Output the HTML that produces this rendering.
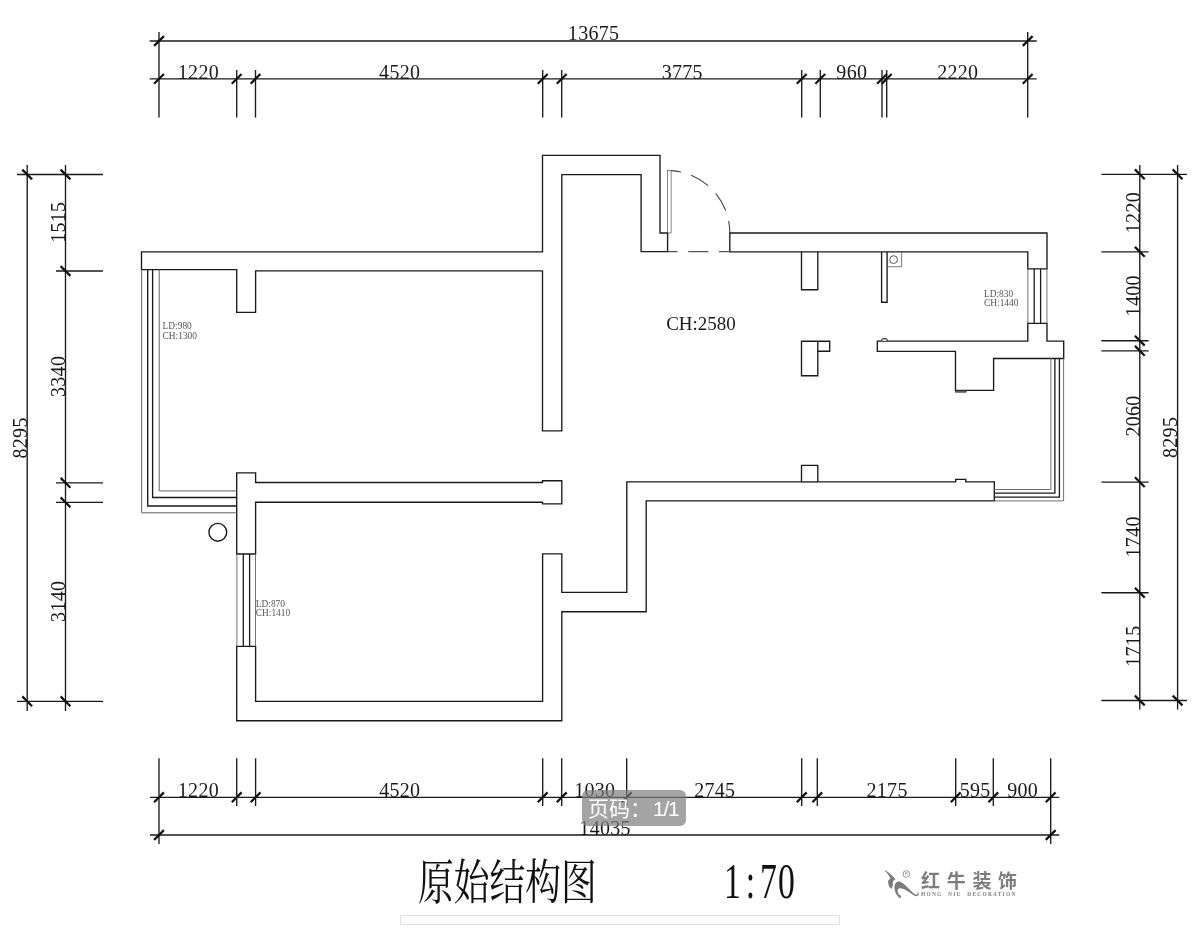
<!DOCTYPE html>
<html lang="zh-CN">
<head>
<meta charset="utf-8">
<title>原始结构图</title>
<style>
html,body{margin:0;padding:0;background:#fff;}
body{width:1200px;height:952px;position:relative;overflow:hidden;font-family:"Liberation Serif","Noto Serif CJK SC",serif;}
svg{position:absolute;left:0;top:0;}
.main{will-change:transform;}
.d{font-family:"Liberation Serif","Noto Serif CJK SC",serif;fill:#1a1a1a;letter-spacing:0.3px;}
.s{font-family:"Liberation Serif","Noto Serif CJK SC",serif;fill:#555;}
.title{position:absolute;left:418px;top:851px;font-family:"Liberation Serif","Noto Serif CJK SC",serif;font-size:47.5px;line-height:64px;color:#111;white-space:nowrap;transform:scaleX(0.753);transform-origin:0 0;font-weight:400;}
.scale{position:absolute;left:724px;top:848.5px;font-family:"Liberation Serif",serif;font-size:51px;line-height:64px;color:#111;white-space:nowrap;transform:scaleX(0.66);transform-origin:0 0;letter-spacing:1.8px;}
.scale span{margin:0 5.6px;}
.bar{position:absolute;left:400px;top:915px;width:438px;height:8.4px;border:1px solid #dfdfdf;background:#fff;}
.badge{position:absolute;left:581.5px;top:790px;width:104px;height:35.5px;border-radius:6px;background:rgba(126,126,126,0.7);color:#fff;font-family:"Liberation Sans","Noto Sans CJK SC",sans-serif;font-size:21px;line-height:35.5px;text-align:left;white-space:nowrap;}
.badge span{position:absolute;left:6.5px;top:0.5px;}
.badge b{font-weight:400;letter-spacing:-1.2px;margin-left:2px;}
.badge i{font-style:normal;font-family:"Liberation Sans","Noto Sans CJK TC",sans-serif;}
.logo{position:absolute;left:884px;top:866px;width:140px;height:36px;color:#7d7d7d;}
.logo .cn{position:absolute;left:37px;top:4px;font-family:"Liberation Sans","Noto Sans CJK SC",sans-serif;font-weight:700;font-size:19px;line-height:24px;letter-spacing:6.7px;white-space:nowrap;}
.logo .en{position:absolute;left:37px;top:25px;font-family:"Liberation Serif",serif;font-weight:700;font-size:5.4px;line-height:6px;letter-spacing:1.25px;white-space:nowrap;word-spacing:3px;}
</style>
</head>
<body>
<svg class="main" width="1200" height="952" viewBox="0 0 1200 952">
<line x1="149.7" y1="41.0" x2="1036.7" y2="41.0" stroke="#1a1a1a" stroke-width="1.35" />
<line x1="149.7" y1="78.9" x2="1036.7" y2="78.9" stroke="#1a1a1a" stroke-width="1.35" />
<line x1="159.0" y1="32.0" x2="159.0" y2="117.6" stroke="#1a1a1a" stroke-width="1.35" />
<line x1="1027.7" y1="32.0" x2="1027.7" y2="117.6" stroke="#1a1a1a" stroke-width="1.35" />
<line x1="236.7" y1="70.0" x2="236.7" y2="117.6" stroke="#1a1a1a" stroke-width="1.35" />
<line x1="255.5" y1="70.0" x2="255.5" y2="117.6" stroke="#1a1a1a" stroke-width="1.35" />
<line x1="542.7" y1="70.0" x2="542.7" y2="117.6" stroke="#1a1a1a" stroke-width="1.35" />
<line x1="561.7" y1="70.0" x2="561.7" y2="117.6" stroke="#1a1a1a" stroke-width="1.35" />
<line x1="801.7" y1="70.0" x2="801.7" y2="117.6" stroke="#1a1a1a" stroke-width="1.35" />
<line x1="820.3" y1="70.0" x2="820.3" y2="117.6" stroke="#1a1a1a" stroke-width="1.35" />
<line x1="882.0" y1="70.0" x2="882.0" y2="117.6" stroke="#1a1a1a" stroke-width="1.35" />
<line x1="886.7" y1="70.0" x2="886.7" y2="117.6" stroke="#1a1a1a" stroke-width="1.35" />
<line x1="154.1" y1="83.8" x2="163.9" y2="74.0" stroke="#111" stroke-width="2.2"/>
<line x1="231.8" y1="83.8" x2="241.6" y2="74.0" stroke="#111" stroke-width="2.2"/>
<line x1="250.6" y1="83.8" x2="260.4" y2="74.0" stroke="#111" stroke-width="2.2"/>
<line x1="537.8" y1="83.8" x2="547.6" y2="74.0" stroke="#111" stroke-width="2.2"/>
<line x1="556.8" y1="83.8" x2="566.6" y2="74.0" stroke="#111" stroke-width="2.2"/>
<line x1="796.8" y1="83.8" x2="806.6" y2="74.0" stroke="#111" stroke-width="2.2"/>
<line x1="815.4" y1="83.8" x2="825.2" y2="74.0" stroke="#111" stroke-width="2.2"/>
<line x1="877.1" y1="83.8" x2="886.9" y2="74.0" stroke="#111" stroke-width="2.2"/>
<line x1="881.8" y1="83.8" x2="891.6" y2="74.0" stroke="#111" stroke-width="2.2"/>
<line x1="1022.8" y1="83.8" x2="1032.6" y2="74.0" stroke="#111" stroke-width="2.2"/>
<line x1="154.1" y1="45.9" x2="163.9" y2="36.1" stroke="#111" stroke-width="2.2"/>
<line x1="1022.8" y1="45.9" x2="1032.6" y2="36.1" stroke="#111" stroke-width="2.2"/>
<text x="593.6" y="40.0" font-size="20" text-anchor="middle" class="d">13675</text>
<text x="198.4" y="78.8" font-size="20" text-anchor="middle" class="d">1220</text>
<text x="399.7" y="78.8" font-size="20" text-anchor="middle" class="d">4520</text>
<text x="682.3" y="78.8" font-size="20" text-anchor="middle" class="d">3775</text>
<text x="851.8" y="78.8" font-size="20" text-anchor="middle" class="d">960</text>
<text x="957.8" y="78.8" font-size="20" text-anchor="middle" class="d">2220</text>
<line x1="150.0" y1="797.3" x2="1059.3" y2="797.3" stroke="#1a1a1a" stroke-width="1.35" />
<line x1="150.0" y1="835.0" x2="1059.3" y2="835.0" stroke="#1a1a1a" stroke-width="1.35" />
<line x1="159.0" y1="758.3" x2="159.0" y2="844.0" stroke="#1a1a1a" stroke-width="1.35" />
<line x1="1050.7" y1="758.3" x2="1050.7" y2="844.0" stroke="#1a1a1a" stroke-width="1.35" />
<line x1="236.7" y1="758.3" x2="236.7" y2="806.0" stroke="#1a1a1a" stroke-width="1.35" />
<line x1="255.6" y1="758.3" x2="255.6" y2="806.0" stroke="#1a1a1a" stroke-width="1.35" />
<line x1="542.7" y1="758.3" x2="542.7" y2="806.0" stroke="#1a1a1a" stroke-width="1.35" />
<line x1="561.7" y1="758.3" x2="561.7" y2="806.0" stroke="#1a1a1a" stroke-width="1.35" />
<line x1="626.7" y1="758.3" x2="626.7" y2="806.0" stroke="#1a1a1a" stroke-width="1.35" />
<line x1="801.7" y1="758.3" x2="801.7" y2="806.0" stroke="#1a1a1a" stroke-width="1.35" />
<line x1="817.3" y1="758.3" x2="817.3" y2="806.0" stroke="#1a1a1a" stroke-width="1.35" />
<line x1="955.7" y1="758.3" x2="955.7" y2="806.0" stroke="#1a1a1a" stroke-width="1.35" />
<line x1="993.3" y1="758.3" x2="993.3" y2="806.0" stroke="#1a1a1a" stroke-width="1.35" />
<line x1="154.1" y1="802.2" x2="163.9" y2="792.4" stroke="#111" stroke-width="2.2"/>
<line x1="231.8" y1="802.2" x2="241.6" y2="792.4" stroke="#111" stroke-width="2.2"/>
<line x1="250.7" y1="802.2" x2="260.5" y2="792.4" stroke="#111" stroke-width="2.2"/>
<line x1="537.8" y1="802.2" x2="547.6" y2="792.4" stroke="#111" stroke-width="2.2"/>
<line x1="556.8" y1="802.2" x2="566.6" y2="792.4" stroke="#111" stroke-width="2.2"/>
<line x1="621.8" y1="802.2" x2="631.6" y2="792.4" stroke="#111" stroke-width="2.2"/>
<line x1="796.8" y1="802.2" x2="806.6" y2="792.4" stroke="#111" stroke-width="2.2"/>
<line x1="812.4" y1="802.2" x2="822.2" y2="792.4" stroke="#111" stroke-width="2.2"/>
<line x1="950.8" y1="802.2" x2="960.6" y2="792.4" stroke="#111" stroke-width="2.2"/>
<line x1="988.4" y1="802.2" x2="998.2" y2="792.4" stroke="#111" stroke-width="2.2"/>
<line x1="1045.8" y1="802.2" x2="1055.6" y2="792.4" stroke="#111" stroke-width="2.2"/>
<line x1="154.1" y1="839.9" x2="163.9" y2="830.1" stroke="#111" stroke-width="2.2"/>
<line x1="1045.8" y1="839.9" x2="1055.6" y2="830.1" stroke="#111" stroke-width="2.2"/>
<text x="605.1" y="834.5" font-size="20" text-anchor="middle" class="d">14035</text>
<text x="198.4" y="797.0" font-size="20" text-anchor="middle" class="d">1220</text>
<text x="399.8" y="797.0" font-size="20" text-anchor="middle" class="d">4520</text>
<text x="594.8" y="797.0" font-size="20" text-anchor="middle" class="d">1030</text>
<text x="714.8" y="797.0" font-size="20" text-anchor="middle" class="d">2745</text>
<text x="887.1" y="797.0" font-size="20" text-anchor="middle" class="d">2175</text>
<text x="975.1" y="797.0" font-size="20" text-anchor="middle" class="d">595</text>
<text x="1022.6" y="797.0" font-size="20" text-anchor="middle" class="d">900</text>
<line x1="27.2" y1="165.0" x2="27.2" y2="711.0" stroke="#1a1a1a" stroke-width="1.35" />
<line x1="65.5" y1="165.0" x2="65.5" y2="711.0" stroke="#1a1a1a" stroke-width="1.35" />
<line x1="17.0" y1="174.5" x2="103.0" y2="174.5" stroke="#1a1a1a" stroke-width="1.35" />
<line x1="17.0" y1="701.3" x2="103.0" y2="701.3" stroke="#1a1a1a" stroke-width="1.35" />
<line x1="56.0" y1="271.0" x2="103.0" y2="271.0" stroke="#1a1a1a" stroke-width="1.35" />
<line x1="56.0" y1="482.8" x2="103.0" y2="482.8" stroke="#1a1a1a" stroke-width="1.35" />
<line x1="56.0" y1="502.3" x2="103.0" y2="502.3" stroke="#1a1a1a" stroke-width="1.35" />
<line x1="60.6" y1="169.6" x2="70.4" y2="179.4" stroke="#111" stroke-width="2.2"/>
<line x1="60.6" y1="266.1" x2="70.4" y2="275.9" stroke="#111" stroke-width="2.2"/>
<line x1="60.6" y1="477.9" x2="70.4" y2="487.7" stroke="#111" stroke-width="2.2"/>
<line x1="60.6" y1="497.4" x2="70.4" y2="507.2" stroke="#111" stroke-width="2.2"/>
<line x1="60.6" y1="696.4" x2="70.4" y2="706.2" stroke="#111" stroke-width="2.2"/>
<line x1="22.3" y1="169.6" x2="32.1" y2="179.4" stroke="#111" stroke-width="2.2"/>
<line x1="22.3" y1="696.4" x2="32.1" y2="706.2" stroke="#111" stroke-width="2.2"/>
<text transform="translate(26.9,437.9) rotate(-90)" font-size="20" text-anchor="middle" class="d">8295</text>
<text transform="translate(65.2,222.2) rotate(-90)" font-size="20" text-anchor="middle" class="d">1515</text>
<text transform="translate(65.2,376.4) rotate(-90)" font-size="20" text-anchor="middle" class="d">3340</text>
<text transform="translate(65.2,601.3) rotate(-90)" font-size="20" text-anchor="middle" class="d">3140</text>
<line x1="1139.8" y1="165.0" x2="1139.8" y2="709.5" stroke="#1a1a1a" stroke-width="1.35" />
<line x1="1177.6" y1="165.0" x2="1177.6" y2="709.5" stroke="#1a1a1a" stroke-width="1.35" />
<line x1="1101.4" y1="174.3" x2="1187.0" y2="174.3" stroke="#1a1a1a" stroke-width="1.35" />
<line x1="1101.4" y1="700.5" x2="1187.0" y2="700.5" stroke="#1a1a1a" stroke-width="1.35" />
<line x1="1101.4" y1="251.8" x2="1148.6" y2="251.8" stroke="#1a1a1a" stroke-width="1.35" />
<line x1="1101.4" y1="340.7" x2="1148.6" y2="340.7" stroke="#1a1a1a" stroke-width="1.35" />
<line x1="1101.4" y1="350.8" x2="1148.6" y2="350.8" stroke="#1a1a1a" stroke-width="1.35" />
<line x1="1101.4" y1="482.1" x2="1148.6" y2="482.1" stroke="#1a1a1a" stroke-width="1.35" />
<line x1="1101.4" y1="592.7" x2="1148.6" y2="592.7" stroke="#1a1a1a" stroke-width="1.35" />
<line x1="1134.9" y1="169.4" x2="1144.7" y2="179.2" stroke="#111" stroke-width="2.2"/>
<line x1="1134.9" y1="246.9" x2="1144.7" y2="256.7" stroke="#111" stroke-width="2.2"/>
<line x1="1134.9" y1="335.8" x2="1144.7" y2="345.6" stroke="#111" stroke-width="2.2"/>
<line x1="1134.9" y1="345.9" x2="1144.7" y2="355.7" stroke="#111" stroke-width="2.2"/>
<line x1="1134.9" y1="477.2" x2="1144.7" y2="487.0" stroke="#111" stroke-width="2.2"/>
<line x1="1134.9" y1="587.8" x2="1144.7" y2="597.6" stroke="#111" stroke-width="2.2"/>
<line x1="1134.9" y1="695.6" x2="1144.7" y2="705.4" stroke="#111" stroke-width="2.2"/>
<line x1="1172.7" y1="169.4" x2="1182.5" y2="179.2" stroke="#111" stroke-width="2.2"/>
<line x1="1172.7" y1="695.6" x2="1182.5" y2="705.4" stroke="#111" stroke-width="2.2"/>
<text transform="translate(1177.3,437.4) rotate(-90)" font-size="20" text-anchor="middle" class="d">8295</text>
<text transform="translate(1139.5,212.6) rotate(-90)" font-size="20" text-anchor="middle" class="d">1220</text>
<text transform="translate(1139.5,295.8) rotate(-90)" font-size="20" text-anchor="middle" class="d">1400</text>
<text transform="translate(1139.5,416.0) rotate(-90)" font-size="20" text-anchor="middle" class="d">2060</text>
<text transform="translate(1139.5,536.9) rotate(-90)" font-size="20" text-anchor="middle" class="d">1740</text>
<text transform="translate(1139.5,646.1) rotate(-90)" font-size="20" text-anchor="middle" class="d">1715</text>
<path d="M141.5,251.9 L542.5,251.9 L542.5,155.3 L660.0,155.3 L660.0,233.0 L667.6,233.0 L667.6,251.6 L641.1,251.6 L641.1,174.6 L561.8,174.6 L561.8,430.8 L542.5,430.8 L542.5,270.8 L255.6,270.8 L255.6,312.4 L236.7,312.4 L236.7,269.6 L141.5,269.6 Z" fill="none" stroke="#1a1a1a" stroke-width="1.35" stroke-linejoin="miter" />
<path d="M729.8,233.0 L1047.0,233.0 L1047.0,268.8 L1027.8,268.8 L1027.8,251.9 L729.8,251.9 Z" fill="none" stroke="#1a1a1a" stroke-width="1.35" stroke-linejoin="miter" />
<path d="M801.5,251.9 L801.5,289.7 L817.8,289.7 L817.8,251.9" fill="none" stroke="#1a1a1a" stroke-width="1.35" stroke-linejoin="miter" />
<path d="M881.6,251.9 L881.6,302.2 L887.1,302.2 L887.1,251.9" fill="none" stroke="#1a1a1a" stroke-width="1.35" stroke-linejoin="miter" />
<path d="M887.1,266.7 L901.6,266.7 L901.6,251.9" fill="none" stroke="#555" stroke-width="0.8" stroke-linejoin="miter" />
<circle cx="893.6" cy="259.6" r="3.9" fill="none" stroke="#444" stroke-width="0.9"/>
<path d="M1027.8,323.4 L1047.0,323.4 L1047.0,341.1 L1063.7,341.1 L1063.7,358.5 L993.6,358.5 L993.6,390.4 L955.5,390.4 L955.5,351.3 L877.3,351.3 L877.3,341.1 L1027.8,341.1 Z" fill="none" stroke="#1a1a1a" stroke-width="1.35" stroke-linejoin="miter" />
<path d="M881.8,341.1 L881.8,339.7 Q881.8,338.7 883,338.7 L886,338.7 Q887.2,338.7 887.2,339.7 L887.2,341.1" fill="#ddd" stroke="#222" stroke-width="1.0"/>
<rect x="955.5" y="390.4" width="10.6" height="1.8" fill="#666" stroke="#222" stroke-width="0.6"/>
<path d="M801.5,341.2 L829.7,341.2 L829.7,351.2 L817.8,351.2 L817.8,375.7 L801.5,375.7 Z" fill="none" stroke="#1a1a1a" stroke-width="1.35" stroke-linejoin="miter" />
<line x1="817.8" y1="341.2" x2="817.8" y2="351.2" stroke="#1a1a1a" stroke-width="1.35" />
<path d="M236.7,472.8 L255.6,472.8 L255.6,482.5 L542.5,482.5 L542.5,480.7 L561.8,480.7 L561.8,503.9 L542.5,503.9 L542.5,502.2 L255.6,502.2 L255.6,554.0 L236.7,554.0 Z" fill="none" stroke="#1a1a1a" stroke-width="1.35" stroke-linejoin="miter" />
<path d="M236.7,646.4 L255.6,646.4 L255.6,701.4 L542.6,701.4 L542.6,553.8 L561.8,553.8 L561.8,592.3 L626.8,592.3 L626.8,481.9 L801.5,481.9 L801.5,465.3 L817.8,465.3 L817.8,481.9 L955.7,481.9 L955.7,479.4 L965.8,479.4 L965.8,481.9 L994.3,481.9 L994.3,500.9 L646.2,500.9 L646.2,611.7 L561.8,611.7 L561.8,720.7 L236.7,720.7 Z" fill="none" stroke="#1a1a1a" stroke-width="1.35" stroke-linejoin="miter" />
<line x1="801.5" y1="481.9" x2="817.8" y2="481.9" stroke="#1a1a1a" stroke-width="1.35" />
<path d="M141.7,269.6 L141.7,512.8 L236.7,512.8" fill="none" stroke="#626262" stroke-width="1.0" stroke-linejoin="miter" />
<path d="M147.7,269.6 L147.7,506.0 L236.7,506.0" fill="none" stroke="#1a1a1a" stroke-width="1.35" stroke-linejoin="miter" />
<path d="M152.6,269.6 L152.6,497.5 L236.7,497.5" fill="none" stroke="#1a1a1a" stroke-width="1.35" stroke-linejoin="miter" />
<path d="M159.2,269.6 L159.2,490.9 L236.7,490.9" fill="none" stroke="#626262" stroke-width="1.0" stroke-linejoin="miter" />
<line x1="236.9" y1="554.0" x2="236.9" y2="646.4" stroke="#626262" stroke-width="0.9" />
<line x1="243.3" y1="554.0" x2="243.3" y2="646.4" stroke="#1a1a1a" stroke-width="1.3" />
<line x1="249.6" y1="554.0" x2="249.6" y2="646.4" stroke="#1a1a1a" stroke-width="1.3" />
<line x1="255.5" y1="554.0" x2="255.5" y2="646.4" stroke="#626262" stroke-width="0.9" />
<line x1="1027.9" y1="268.8" x2="1027.9" y2="323.4" stroke="#626262" stroke-width="0.9" />
<line x1="1034.2" y1="268.8" x2="1034.2" y2="323.4" stroke="#1a1a1a" stroke-width="1.3" />
<line x1="1040.6" y1="268.8" x2="1040.6" y2="323.4" stroke="#1a1a1a" stroke-width="1.3" />
<line x1="1046.9" y1="268.8" x2="1046.9" y2="323.4" stroke="#626262" stroke-width="0.9" />
<path d="M1050.9,358.3 L1050.9,489.5 L994.3,489.5" fill="none" stroke="#626262" stroke-width="0.9" stroke-linejoin="miter" />
<path d="M1054.9,358.3 L1054.9,493.2 L994.3,493.2" fill="none" stroke="#1a1a1a" stroke-width="1.3" stroke-linejoin="miter" />
<path d="M1059.4,358.3 L1059.4,497.1 L994.3,497.1" fill="none" stroke="#1a1a1a" stroke-width="1.3" stroke-linejoin="miter" />
<path d="M1063.6,358.3 L1063.6,500.9 L994.3,500.9" fill="none" stroke="#626262" stroke-width="0.9" stroke-linejoin="miter" />
<circle cx="217.8" cy="532.3" r="8.9" fill="none" stroke="#1a1a1a" stroke-width="1.4"/>
<rect x="667.6" y="170.6" width="3.5" height="62.4" fill="none" stroke="#555" stroke-width="0.7"/>
<path d="M671.1,170.6 A62.3,62.3 0 0 1 729.8,233.0" fill="none" stroke="#444" stroke-width="1.1" stroke-dasharray="20 10.7" stroke-dashoffset="10"/>
<line x1="667.6" y1="251.6" x2="729.8" y2="251.6" stroke="#555" stroke-width="1.2" stroke-dasharray="20 10.7" stroke-dashoffset="10"/>
<text x="162.6" y="328.9" font-size="9.4" class="s">LD:980</text>
<text x="162.6" y="338.9" font-size="9.4" class="s">CH:1300</text>
<text x="255.8" y="606.8" font-size="9.4" class="s">LD:870</text>
<text x="255.8" y="616.0" font-size="9.4" class="s">CH:1410</text>
<text x="984.0" y="296.5" font-size="9.4" class="s">LD:830</text>
<text x="984.0" y="306.2" font-size="9.4" class="s">CH:1440</text>
<text x="666.2" y="330.4" font-size="19" class="d" style="letter-spacing:0">CH:2580</text>
<path d="M885.0,870.1 C888.5,872.4 892.5,875.6 895.4,879.2 C894.0,880.2 893.0,881.2 892.6,882.3 C893.0,883.1 893.2,883.9 893.0,884.8 C892.7,886.3 892.0,887.7 891.3,889.0 C889.6,887.6 888.6,885.8 888.3,883.8 C888.0,882.4 888.0,881.3 888.3,880.4 C889.2,879.6 889.9,878.8 890.4,877.9 C889.0,875.4 887.2,872.9 885.0,870.9 Z" fill="#7b7b7b"/>
<path d="M894.6,885.6 C895.0,883.4 896.3,882.0 898.1,881.6 C899.4,881.4 900.7,881.8 901.9,882.6 C904.6,884.4 907.0,886.9 909.4,889.3 C911.2,891.2 913.0,893.0 914.9,894.2 C915.9,894.8 916.8,894.8 917.3,894.3 C917.9,893.7 918.0,892.8 917.7,892.2 C917.5,891.8 917.1,891.5 916.6,891.4 C917.6,891.3 918.5,892.0 918.8,893.0 C919.0,894.2 918.6,895.2 917.8,895.7 C916.9,896.3 915.8,896.3 914.7,895.8 C912.9,895.0 911.2,893.7 909.4,892.3 C907.5,890.9 905.6,889.6 903.5,888.9 C902.1,888.4 900.8,888.1 899.7,888.2 C898.5,888.5 897.8,889.4 897.6,890.6 C897.5,891.9 897.8,893.0 898.5,893.9 C899.1,894.7 899.9,895.2 900.8,895.6 C900.9,896.6 900.8,897.6 900.6,898.6 C899.4,898.0 898.4,897.1 897.6,896.0 C896.5,894.6 895.7,893.1 895.1,891.4 C894.6,889.5 894.3,887.5 894.6,885.6 Z" fill="#7b7b7b"/>
<circle cx="906.3" cy="874.0" r="3.3" fill="none" stroke="#919191" stroke-width="1.0"/>
<text x="906.3" y="875.4" font-size="3.8" text-anchor="middle" font-family="Liberation Sans, sans-serif" font-weight="700" fill="#999">R</text>
</svg>
<div class="title">原始结构图</div>
<div class="scale">1<span>:</span>70</div>
<div class="bar"></div>
<div class="logo">

<div class="cn">红牛装饰</div>
<div class="en">HONG NIU DECORATION</div>
</div>
<div class="badge"><span>页码<i>：</i><b>1/1</b></span></div>
</body>
</html>
